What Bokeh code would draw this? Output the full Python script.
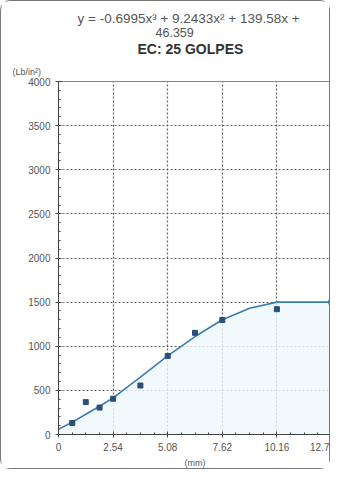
from bokeh.plotting import figure
from bokeh.models import Title, FixedTicker, Range1d
from bokeh.embed import file_html
from bokeh.resources import INLINE

# --- data ---
x_points = [0.64, 1.27, 1.91, 2.54, 3.81, 5.08, 6.35, 7.62, 10.16, 12.7]
y_points = [130, 367, 305, 405, 555, 890, 1152, 1297, 1420, 1500]

x_curve = [0, 0.64, 1.27, 1.91, 2.54, 3.81, 5.08, 6.35, 7.62, 8.89, 10.16, 11.43, 12.7]
y_curve = [60, 140, 230, 320, 415, 650, 890, 1110, 1300, 1430, 1500, 1500, 1500]

x_ticks = [0, 2.54, 5.08, 7.62, 10.16, 12.7]
x_tick_labels = ["0", "2.54", "5.08", "7.62", "10.16", "12.7"]
y_ticks = [0, 500, 1000, 1500, 2000, 2500, 3000, 3500, 4000]

eq_line1 = "y = -0.6995x³ + 9.2433x² + 139.58x +"
eq_line2 = "46.359"
subtitle = "EC: 25 GOLPES"
y_unit = "(Lb/in²)"
x_unit = "(mm)"

FONT = "Liberation Sans"

p = figure(width=330, height=469, output_backend="svg", toolbar_location=None,
           x_range=Range1d(0, 12.7), y_range=Range1d(0, 4000),
           min_border_left=57, min_border_right=0, min_border_bottom=7)
p.styles = {"border": "1px solid #777", "border-radius": "10px"}

p.outline_line_color = "#888"
p.background_fill_color = "white"
p.border_fill_color = "white"

# titles (first added sits closest to the frame)
t_unit = Title(text=y_unit, align="left", offset=-46, text_font=FONT,
               text_font_size="9px", text_font_style="normal", text_color="#555", standoff=10)
t_sub = Title(text=subtitle, align="left", offset=79, text_font=FONT,
              text_font_size="14px", text_font_style="bold", text_color="#333", standoff=5)
t_eq2 = Title(text=eq_line2, align="left", offset=97, text_font=FONT,
              text_font_size="12.5px", text_font_style="normal", text_color="#555", standoff=0)
t_eq1 = Title(text=eq_line1, align="left", offset=19, text_font=FONT,
              text_font_size="13.5px", text_font_style="normal", text_color="#555", standoff=0)
t_pad = Title(text=" ", align="center", text_font=FONT,
              text_font_size="4px", text_color="white", standoff=0)
for t in (t_unit, t_sub, t_eq2, t_eq1, t_pad):
    p.add_layout(t, "above")

# axes
p.xaxis.ticker = FixedTicker(ticks=x_ticks, minor_ticks=[i * 0.635 for i in range(21)])
p.xaxis.major_label_overrides = dict(zip(x_ticks, x_tick_labels))
p.yaxis.ticker = FixedTicker(ticks=y_ticks, minor_ticks=list(range(0, 4001, 100)))
for ax in (p.xaxis, p.yaxis):
    ax.axis_line_color = "#444"
    ax.major_tick_line_color = "#444"
    ax.minor_tick_line_color = "#444"
    ax.major_tick_in = 3
    ax.major_tick_out = 3
    ax.minor_tick_in = 2
    ax.minor_tick_out = 0
    ax.major_label_text_font = FONT
    ax.major_label_text_font_size = "10px"
    ax.major_label_text_color = "#555"
p.xaxis.axis_label = x_unit
p.xaxis.axis_label_text_font = FONT
p.xaxis.axis_label_text_font_size = "9px"
p.xaxis.axis_label_text_font_style = "normal"
p.xaxis.axis_label_text_color = "#555"
p.xaxis.axis_label_standoff = 4

# grid
for g in (p.xgrid, p.ygrid):
    g.grid_line_color = "#555"
    g.grid_line_dash = "2 2"
    g.grid_line_width = 1.2
    g.grid_line_alpha = 0.9
p.xgrid.ticker = FixedTicker(ticks=x_ticks)
p.ygrid.ticker = FixedTicker(ticks=y_ticks)

# faint tint under the curve, curve and points
p.varea(x=x_curve, y1=0, y2=y_curve, fill_color="#eef7fb", fill_alpha=0.8)
p.line(x_curve, y_curve, line_color="#3a7db0", line_width=1.6)
p.scatter(x_points, y_points, marker="square", size=5, fill_color="#2b4f7a", line_color="#2b4f7a")

open("out.html", "w").write(file_html(p, INLINE))
